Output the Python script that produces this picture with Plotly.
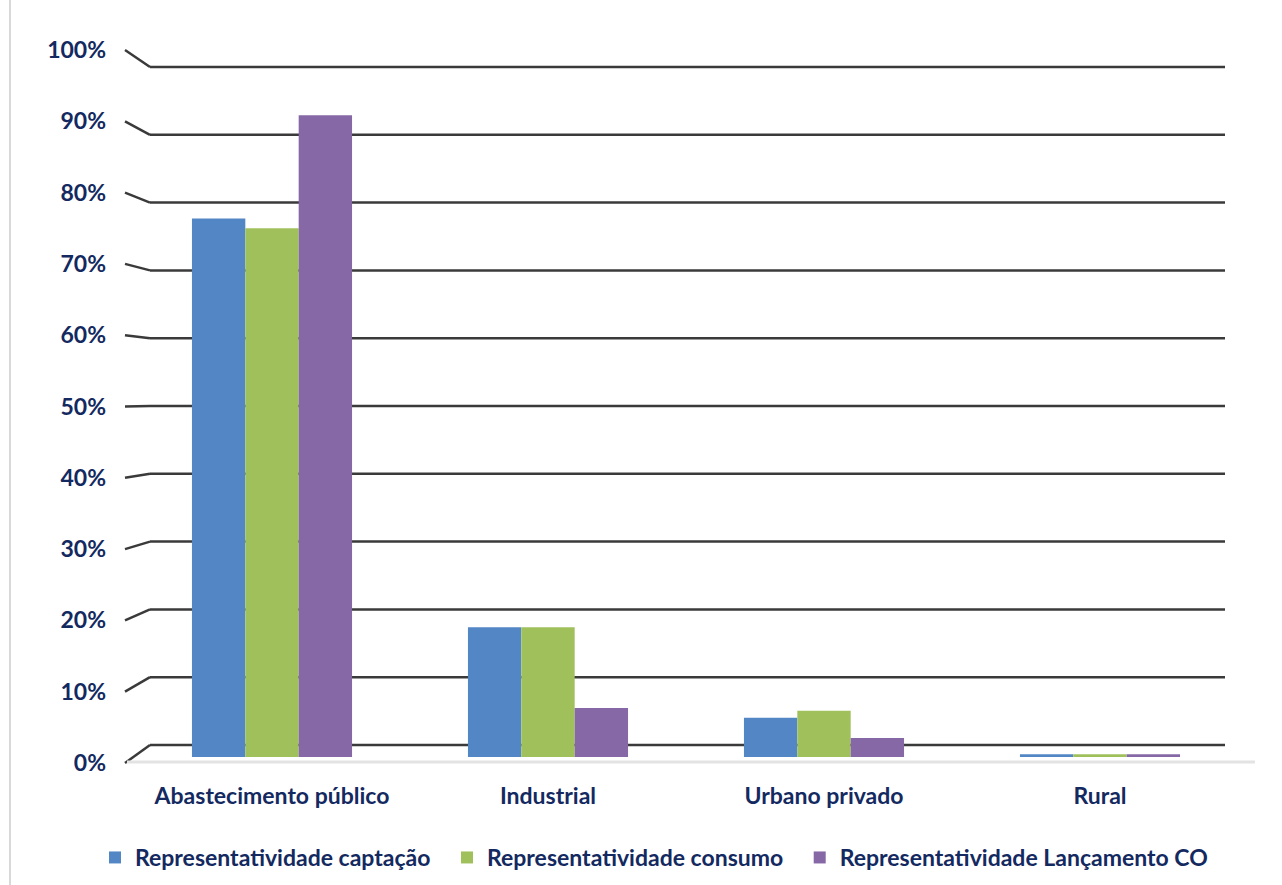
import plotly.graph_objects as go

# Shares of each water use, in percent
categories = ["Abastecimento público", "Industrial", "Urbano privado", "Rural"]
captacao = [76.8, 18.5, 5.6, 0.4]
consumo = [75.4, 18.5, 6.6, 0.4]
lancamento = [91.5, 7.0, 2.7, 0.4]
series_names = [
    "Representatividade captação",
    "Representatividade consumo",
    "Representatividade Lançamento CO",
]
tick_values = list(range(0, 101, 10))
tick_labels = [f"{v}%" for v in tick_values]

W, H = 1282, 885
TEXT = "#13295f"
FONT = "Lato"
colors = ["#5286c4", "#a0c05c", "#8668a6"]
LEGEND_PAD = "\u2002"  # a little extra room between legend entries


def px_x(p):
    return p / W


def px_y(p):
    return 1 - p / H


# Front plane (bars), back wall (gridlines) and label plane, in pixels
BAR0, BAR100 = 757, 55.7
WALL0, WALL100 = 745, 67
LAB0, LAB100 = 763, 50


def wall_y(v):
    return px_y(WALL0 + (WALL100 - WALL0) * v / 100)


def label_y(v):
    return px_y(LAB0 + (LAB100 - LAB0) * v / 100)


fig = go.Figure()
for i, (name, vals, col) in enumerate(zip(series_names, [captacao, consumo, lancamento], colors)):
    shown = name + (LEGEND_PAD if i < len(series_names) - 1 else "")
    fig.add_trace(go.Bar(
        x=categories, y=vals, name=shown,
        marker=dict(color=col, line=dict(width=0)),
    ))

# Invisible trace carrying the percent tick axis
fig.add_trace(go.Scatter(x=[categories[0]], y=[0], yaxis="y3", mode="markers",
                         marker=dict(opacity=0), showlegend=False, hoverinfo="skip"))

shapes = []
for v in tick_values:
    # back-wall gridline
    shapes.append(dict(type="line", xref="paper", yref="paper", layer="below",
                       x0=px_x(150), x1=px_x(1225), y0=wall_y(v), y1=wall_y(v),
                       line=dict(color="#3a3a3a", width=2.5)))
    # side-wall stub from the front edge to the back wall
    shapes.append(dict(type="line", xref="paper", yref="paper", layer="below",
                       x0=px_x(125), x1=px_x(150), y0=label_y(v), y1=wall_y(v),
                       line=dict(color="#3a3a3a", width=2.5)))
# floor front edge
shapes.append(dict(type="line", xref="paper", yref="paper", layer="below",
                   x0=px_x(127), x1=px_x(1255), y0=px_y(762), y1=px_y(762),
                   line=dict(color="#e3e3e3", width=3)))
# chart area left border
shapes.append(dict(type="line", xref="paper", yref="paper", layer="below",
                   x0=px_x(10), x1=px_x(10), y0=0, y1=1,
                   line=dict(color="#d9d9d9", width=2)))

tfont = dict(family=FONT, size=23, color=TEXT, weight="bold")

fig.update_layout(
    width=W, height=H,
    margin=dict(l=0, r=0, t=0, b=0, autoexpand=False),
    paper_bgcolor="white", plot_bgcolor="rgba(0,0,0,0)",
    barmode="group", bargap=0.42, bargroupgap=0,
    font=tfont,
    shapes=shapes,
    xaxis=dict(domain=[px_x(134), px_x(1238)], type="category",
               showgrid=False, showline=False, zeroline=False, ticks="",
               tickfont=tfont, ticklabelstandoff=23, anchor="y",
               automargin=False),
    yaxis=dict(domain=[px_y(BAR0), px_y(BAR100)], range=[0, 100],
               showgrid=False, showline=False, zeroline=False,
               showticklabels=False, ticks="", automargin=False),
    yaxis3=dict(domain=[px_y(LAB0), px_y(LAB100)], range=[0, 100],
                anchor="free", position=px_x(106), side="left",
                tickvals=tick_values, ticktext=tick_labels,
                showgrid=False, showline=False, zeroline=False, ticks="",
                tickfont=tfont, automargin=False),
    legend=dict(orientation="h", x=px_x(95), y=px_y(836), xanchor="left", yanchor="top",
                font=tfont, itemwidth=30, traceorder="normal"),
    showlegend=True,
)

fig.write_html("out.html")
